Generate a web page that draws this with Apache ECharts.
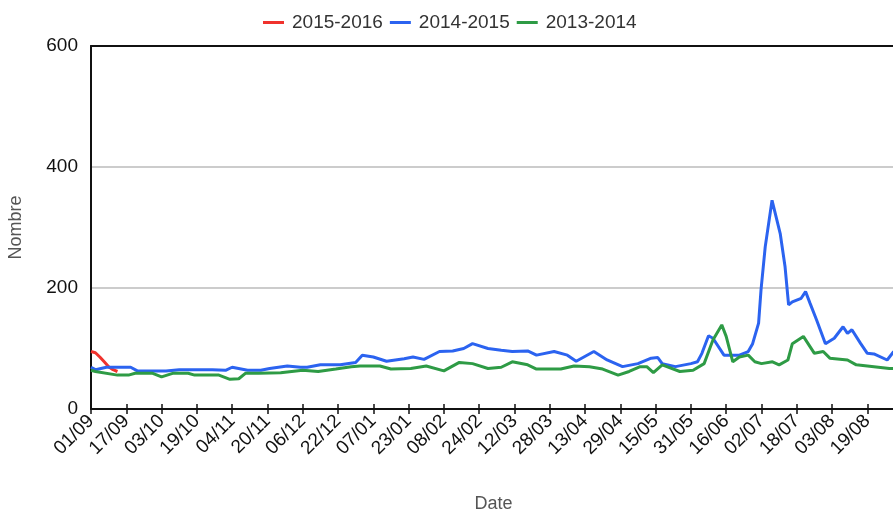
<!DOCTYPE html>
<html>
<head>
<meta charset="utf-8">
<script src="https://cdn.jsdelivr.net/npm/echarts@6/dist/echarts.min.js"></script>
<style>
  html, body { margin: 0; padding: 0; background: #fff; }
  #chart { width: 893px; height: 511px; }
</style>
</head>
<body>
<div id="chart"></div>
<script>
// day index (0 = 01/09) -> labels every 16 days
const tickLabels = ['01/09', '17/09', '03/10', '19/10', '04/11', '20/11', '06/12', '22/12',
  '07/01', '23/01', '08/02', '24/02', '12/03', '28/03', '13/04', '29/04', '15/05',
  '31/05', '16/06', '02/07', '18/07', '03/08', '19/08']

// [day, value]
const s2015 = [[0, 95], [2, 93], [4, 86], [6, 78], [8, 70], [10, 65], [12, 62]]

const s2014 = [[0, 69], [2, 65], [7, 69], [18, 69], [21, 63], [34, 63], [40, 65], [55, 65],
  [61, 64], [64, 69], [71, 64], [77, 64], [81, 67], [89, 71], [95, 69], [98, 69],
  [104, 73], [113, 73], [120, 77], [123, 89], [128, 86], [134, 79], [142, 83], [146, 86],
  [151, 82], [158, 95], [164, 96], [169, 100], [173, 108], [180, 100], [186, 97], [191, 95],
  [198, 96], [202, 89], [210, 95], [216, 89], [220, 79], [228, 95], [234, 81], [241, 70],
  [248, 75], [254, 84], [257, 85], [259, 75], [265, 70], [272, 75], [275, 78], [277, 92],
  [280, 121], [282, 117], [287, 89], [294, 89], [298, 95], [300, 108], [302.7, 142],
  [303.8, 197], [305.7, 268], [308.8, 345], [312.5, 290], [314.7, 235], [316.3, 172],
  [318, 177], [322, 183], [324, 194], [326, 175], [329, 147], [333, 108], [337, 117],
  [341, 136], [343, 125], [345, 131], [349, 108], [352, 92], [355, 91], [361, 81], [364, 95]]

const s2013 = [[0, 64], [2, 62], [12, 56], [17, 56], [20, 59], [28, 59], [32, 53], [37, 59],
  [44, 59], [47, 56], [58, 56], [63, 49], [67, 50], [70, 59], [76, 59], [86, 60],
  [96, 64], [103, 62], [111, 66], [118, 70], [122, 71], [131, 71], [136, 66], [145, 67],
  [152, 71], [160, 63], [167, 77], [173, 75], [180, 67], [186, 69], [191, 78], [198, 73],
  [202, 66], [213, 66], [219, 71], [226, 70], [232, 66], [239, 56], [244, 62], [249, 70],
  [252, 70], [255, 60], [259, 73], [267, 62], [273, 64], [278, 75], [282, 114], [286, 139],
  [288, 120], [291, 78], [294, 86], [298, 89], [301, 78], [304, 75], [309, 78], [312, 73],
  [316, 81], [318, 108], [323, 120], [328, 92], [332, 95], [335, 84], [343, 81], [347, 73],
  [355, 70], [362, 67], [365, 67]]

const chart = echarts.init(document.getElementById('chart'))
const font = "'Liberation Sans', Arial, sans-serif"

const lineSeries = (name, data, color) => ({
  name: name,
  type: 'line',
  data: data,
  showSymbol: false,
  symbol: 'none',
  lineStyle: { color: color, width: 3 },
  itemStyle: { color: color }
})

chart.setOption({
  animation: false,
  textStyle: { fontFamily: font },
  legend: {
    top: 8,
    left: 258,
    icon: 'rect',
    itemWidth: 21,
    itemHeight: 3,
    itemGap: 7,
    textStyle: { fontSize: 19, color: '#333', fontFamily: font, padding: [0, 0, 0, 3] },
    data: ['2015-2016', '2014-2015', '2013-2014']
  },
  grid: {
    left: 91,
    right: -3,
    top: 46,
    bottom: 102,
    outerBoundsMode: 'none',
    containLabel: false
  },
  xAxis: [{
    type: 'value',
    min: 0,
    max: 365,
    interval: 16,
    name: 'Date',
    nameLocation: 'middle',
    nameGap: 86,
    nameTextStyle: { fontSize: 18, color: '#555', fontFamily: font },
    axisLine: { lineStyle: { color: '#111', width: 2 } },
    axisTick: { length: 5, lineStyle: { color: '#111', width: 1.5 } },
    axisLabel: {
      rotate: 45,
      margin: 9,
      fontSize: 19,
      color: '#111',
      fontFamily: font,
      showMaxLabel: false,
      formatter: function (v) {
        return v % 16 === 0 && tickLabels[v / 16] ? tickLabels[v / 16] : ''
      }
    },
    splitLine: { show: false }
  }, {
    type: 'value',
    position: 'bottom',
    min: 0,
    max: 365,
    interval: 16,
    axisLine: { show: false },
    axisTick: { inside: true, length: 5, lineStyle: { color: '#111', width: 1.5 } },
    axisLabel: { show: false },
    splitLine: { show: false }
  }, {
    // black frame line along the top of the plot
    type: 'value',
    position: 'top',
    min: 0,
    max: 365,
    z: 5,
    axisLine: { show: true, lineStyle: { color: '#111', width: 2 } },
    axisTick: { show: false },
    axisLabel: { show: false },
    splitLine: { show: false }
  }],
  yAxis: {
    type: 'value',
    min: 0,
    max: 600,
    interval: 200,
    name: 'Nombre',
    nameLocation: 'middle',
    nameGap: 66,
    nameTextStyle: { fontSize: 18, color: '#555', fontFamily: font },
    axisLine: { show: true, lineStyle: { color: '#111', width: 2 } },
    axisTick: { show: false },
    axisLabel: { margin: 13, fontSize: 19, color: '#111', fontFamily: font },
    splitLine: { lineStyle: { color: '#cccccc', width: 2 } }
  },
  series: [
    lineSeries('2015-2016', s2015, '#f0322d'),
    lineSeries('2014-2015', s2014, '#2b63f0'),
    lineSeries('2013-2014', s2013, '#2e9b45')
  ]
})
</script>
</body>
</html>
